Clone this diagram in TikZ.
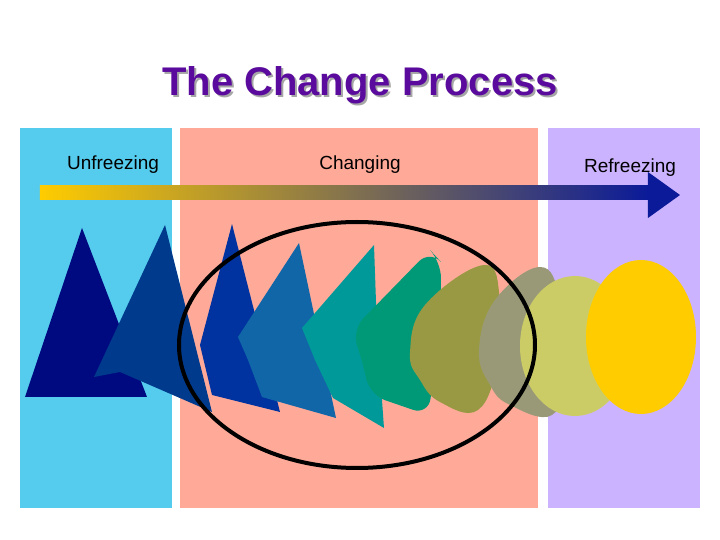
\documentclass[tikz,border=0pt]{standalone}
\usepackage{fontspec}
\setmainfont{Liberation Sans}
\definecolor{panelblue}{HTML}{55CCEE}
\definecolor{panelsalmon}{HTML}{FFAA99}
\definecolor{panellilac}{HTML}{CCB3FF}
\definecolor{titlepurple}{HTML}{5A0A9C}
\definecolor{arrownavy}{HTML}{0A1A99}
\definecolor{sunyellow}{HTML}{FFCC00}
\begin{document}
\begin{tikzpicture}[x=0.5pt,y=-0.5pt,
    panel/.style={fill=#1,draw=none},
    label/.style={font=\fontsize{9.5}{11}\selectfont,anchor=center}]
  \useasboundingbox (0,0) rectangle (720,540);
  % background panels
  \fill[panel=panelblue] (20,128) rectangle (172,508);
  \fill[panel=panelsalmon] (180,128) rectangle (538,508);
  \fill[panel=panellilac] (548,128) rectangle (700,508);
  % title
  \node[font=\bfseries\fontsize{20}{24}\selectfont,text=gray!70] (shadow) at (362,87) {The Change Process};
  \node[font=\bfseries\fontsize{20}{24}\selectfont,text=titlepurple] (title) at (360,85) {The Change Process};
  % stage labels
  \node[label] (unfreeze) at (113,165) {Unfreezing};
  \node[label] (change) at (360,165) {Changing};
  \node[label] (refreeze) at (630,168) {Refreezing};
  % gradient arrow
  \shade[left color=sunyellow,right color=arrownavy] (40,186) rectangle (650,200);
  \fill[arrownavy] (648,172) -- (680,195) -- (648,218) -- cycle;
  % morphing shapes
  \fill[fill={rgb,255:red,0;green,10;blue,128}] (82,228) -- (147,397) -- (25,397) -- cycle;
  \fill[fill={rgb,255:red,0;green,58;blue,140}] (165,225) -- (212,412) -- (120,372) -- (94,377) -- cycle;
  \fill[fill={rgb,255:red,0;green,51;blue,160}] (232,224) -- (280,412) -- (212,395) -- (200,345) -- cycle;
  \fill[fill={rgb,255:red,17;green,102;blue,168}] (299,243) -- (336,418) -- (262,397) -- (248,360) -- (238,337) -- cycle;
  \fill[fill={rgb,255:red,0;green,153;blue,153}] (374,245) -- (377,330) -- (384,428) -- (333,398) -- (315,360) -- (302,328) -- cycle;
  \fill[fill={rgb,255:red,0;green,153;blue,119},rounded corners=8] (430,250) -- (441,262) -- (441,330) -- (428,415) -- (370,395) -- (362,360) -- (352,330) -- cycle;
  \fill[fill={rgb,255:red,153;green,153;blue,68}] plot[smooth cycle,tension=0.7] coordinates {(484,265) (500,300) (498,360) (478,410) (440,402) (420,380) (410,353) (425,305)};
  \fill[fill={rgb,255:red,153;green,153;blue,119}] plot[smooth cycle,tension=0.7] coordinates {(540,267) (560,300) (565,370) (552,415) (510,405) (490,385) (479,350) (495,300)};
  \fill[fill={rgb,255:red,204;green,204;blue,102}] (575,346) ellipse [x radius=55,y radius=70];
  \fill[sunyellow] (641,337) ellipse [x radius=55,y radius=77];
  % focus ring
  \draw[line width=2] (357,345) ellipse [x radius=178,y radius=123];
\end{tikzpicture}
\end{document}
